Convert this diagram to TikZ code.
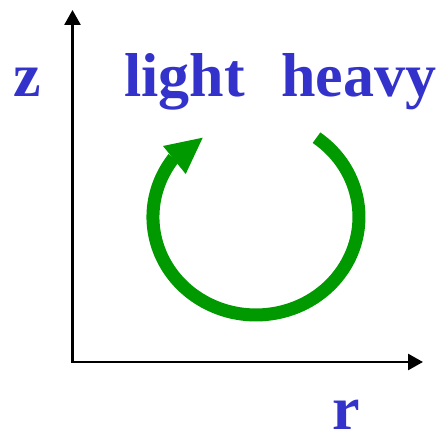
\documentclass[tikz,border=0pt]{standalone}
\usepackage{fontspec}
\setmainfont{Liberation Serif}
\usetikzlibrary{arrows.meta}
\definecolor{lblue}{HTML}{3333CC}
\definecolor{agreen}{HTML}{009900}
\begin{document}
\begin{tikzpicture}[x=1pt,y=1pt,
  lbl/.style={anchor=base west,inner sep=0pt,text=lblue,font=\fontsize{62}{62}\selectfont\bfseries},
  axis/.style={line width=2.7pt,{Triangle[length=15pt,width=16pt]}-{Triangle[length=15pt,width=16pt]}},
  cycle/.style={line width=13pt,agreen}]
\useasboundingbox (0,0) rectangle (441,435);
\coordinate (ztip) at (72.5,425);
\coordinate (origin) at (72.5,73);
\coordinate (rtip) at (423,73);
\draw[axis] (ztip) -- (origin) -- (rtip);
\node[lbl] (z) at (13,338) {z};
\node[lbl] (light) at (124,338) {light};
\node[lbl] (heavy) at (281,338) {heavy};
\node[lbl] (r) at (332,5.5) {r};
\coordinate (arcstart) at (316.5,297.3);
\draw[cycle] (arcstart) arc[start angle=54,end angle=-217,x radius=103,y radius=98];
\coordinate (h1) at (163,289);
\coordinate (h2) at (185.7,261);
\coordinate (htip) at (202.7,297.3);
\fill[agreen] (h1) -- (htip) -- (h2) -- cycle;
\end{tikzpicture}
\end{document}
